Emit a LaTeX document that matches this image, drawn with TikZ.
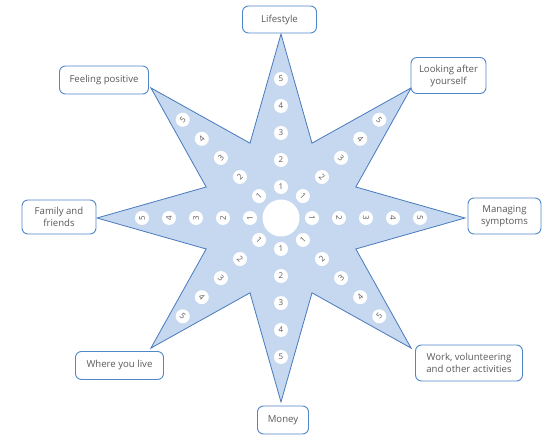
\documentclass[tikz,border=0pt]{standalone}
\usepackage{fontspec}
\setmainfont{Open Sans}
\usetikzlibrary{calc}
\definecolor{starfill}{RGB}{197,216,240}
\definecolor{staredge}{RGB}{72,122,188}
\definecolor{boxedge}{RGB}{80,135,200}
\definecolor{txt}{RGB}{90,90,90}
\begin{document}
\begin{tikzpicture}[x=1pt,y=-1pt,
  labelbox/.style={draw=boxedge, line width=0.9pt, rounded corners=6pt, fill=white,
    text=txt, font=\fontsize{9.6}{12}\selectfont, align=center, inner sep=0pt},
  numdot/.style={circle, fill=white, minimum size=14pt, inner sep=0pt,
    text=txt, font=\fontsize{8}{8}\selectfont},
  hubdot/.style={circle, fill=white, minimum size=37pt, inner sep=0pt}]
\useasboundingbox (0,0) rectangle (557,443);
\coordinate (c) at (281,218);
% star vertices
\foreach \k in {0,...,15}{
  \pgfmathsetmacro\rr{mod(\k,2)==0 ? 184 : 81}
  \coordinate (s\k) at ($(c)+({90-22.5*\k}:\rr pt)$);
}
\draw[staredge, fill=starfill, line width=0.8pt, line join=miter]
  (s0) -- (s1) -- (s2) -- (s3) -- (s4) -- (s5) -- (s6) -- (s7) -- (s8)
  -- (s9) -- (s10) -- (s11) -- (s12) -- (s13) -- (s14) -- (s15) -- cycle;
% hub
\node[hubdot] (hub) at (c) {};
% numbers
\foreach \a/\r [count=\i] in {90/0, 45/-45, 0/-90, -45/45, -90/0, -135/-45, 180/90, 135/45}{
  \foreach \n/\d in {1/31, 2/58, 3/85, 4/112, 5/139}{
    \node[numdot, rotate=\r] (n\i-\n) at ($(c)+(\a:\d pt)$) {\n};
  }
}
% labels
\node[labelbox, minimum width=74pt, minimum height=27pt] (life) at (279.5,19.5) {Lifestyle};
\node[labelbox, minimum width=89pt, minimum height=28pt] (feel) at (104,80) {Feeling positive};
\node[labelbox, minimum width=75pt, minimum height=36pt] (look) at (448.5,75.5) {Looking after\\yourself};
\node[labelbox, minimum width=74pt, minimum height=34pt] (fam) at (59,217) {Family and\\friends};
\node[labelbox, minimum width=73pt, minimum height=36pt] (manage) at (504.5,216) {Managing\\symptoms};
\node[labelbox, minimum width=88pt, minimum height=28pt] (where) at (119.5,365.5) {Where you live};
\node[labelbox, minimum width=107pt, minimum height=36pt] (work) at (469,363) {Work, volunteering\\and other activities};
\node[labelbox, minimum width=51pt, minimum height=28pt] (money) at (283,420) {Money};
\end{tikzpicture}
\end{document}
